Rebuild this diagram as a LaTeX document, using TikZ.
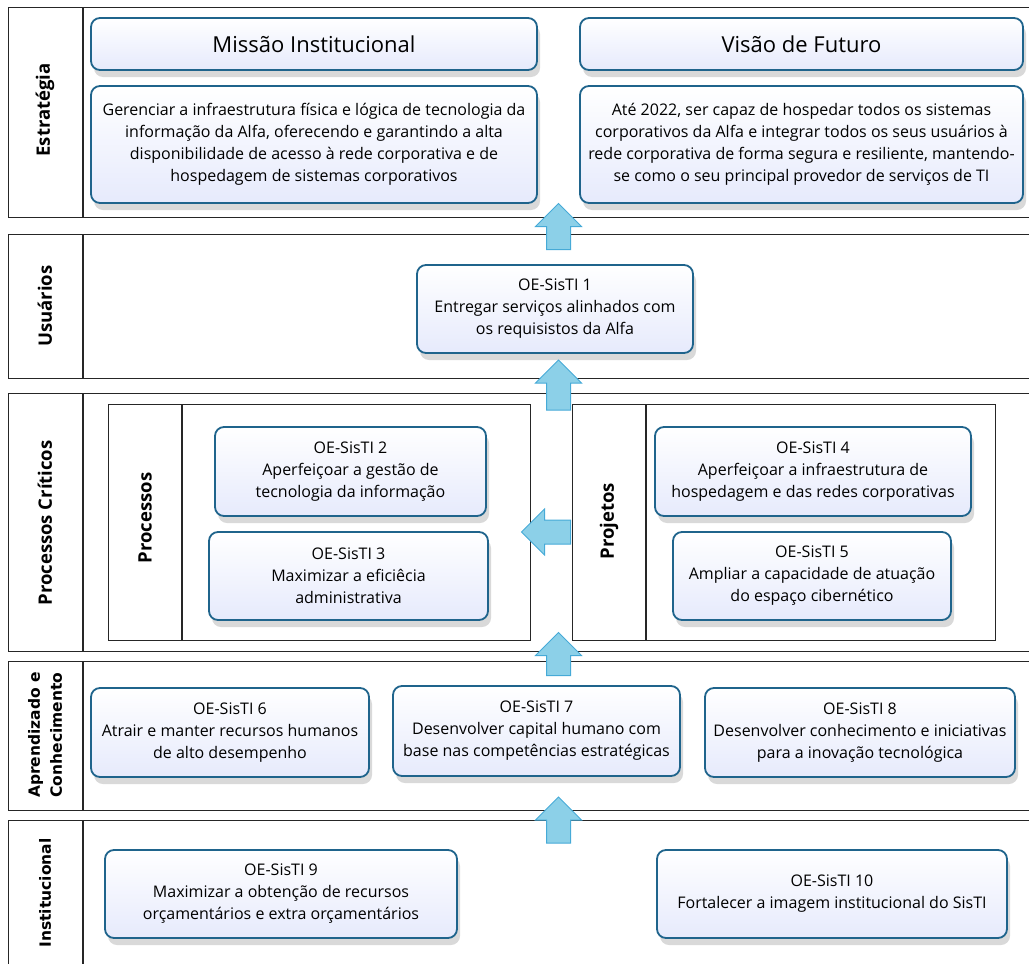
\documentclass[tikz,border=0pt]{standalone}
\usepackage{fontspec}
\setmainfont{Open Sans}
\newfontfamily\widebold{DejaVu Sans}
\usetikzlibrary{shapes.arrows,shadows,positioning}

\definecolor{boxline}{RGB}{31,100,140}
\definecolor{boxfill}{RGB}{230,234,252}
\definecolor{arrowfill}{RGB}{140,208,232}
\definecolor{arrowline}{RGB}{70,170,215}

\begin{document}
\begin{tikzpicture}[x=1pt, y=-1pt]
  % Define styles
  \tikzset{
    lane/.style={rectangle, draw=black!85, line width=1.3pt, inner sep=0pt, anchor=north west},
    lanelabel/.style={font=\bfseries\fontsize{18.5}{22}\selectfont, rotate=90, align=center},
    widelabel/.style={lanelabel, font=\widebold\bfseries\fontsize{15.5}{22}\selectfont},
    objbox/.style={rectangle, draw=boxline, line width=1.8pt, rounded corners=9pt, top color=white, bottom color=boxfill, align=center, inner sep=0pt, font=\fontsize{16}{22}\selectfont, drop shadow={opacity=0.3, shadow xshift=3pt, shadow yshift=-7pt}},
    titlebox/.style={objbox, font=\fontsize{22}{26}\selectfont},
    bigarrow/.style={single arrow, draw=arrowline, fill=arrowfill, line width=1pt, minimum height=46pt, minimum width=45pt, single arrow head extend=11pt, inner sep=11.5pt},
  }
  \useasboundingbox (0,0) rectangle (1029,964);

  % Lanes
  \node [lane, minimum width=1030pt, minimum height=210pt] (estr) at (8,7) {};
  \node [lane, minimum width=1030pt, minimum height=144pt] (usu) at (8,234) {};
  \node [lane, minimum width=1030pt, minimum height=258pt] (proc) at (8,393) {};
  \node [lane, minimum width=1030pt, minimum height=149pt] (apre) at (8,661) {};
  \node [lane, minimum width=1030pt, minimum height=160pt] (inst) at (8,820) {};
  \draw [black!85, line width=1.3pt] (83,7) -- (83,217);
  \draw [black!85, line width=1.3pt] (83,234) -- (83,378);
  \draw [black!85, line width=1.3pt] (83,393) -- (83,651);
  \draw [black!85, line width=1.3pt] (83,661) -- (83,810);
  \draw [black!85, line width=1.3pt] (83,820) -- (83,980);

  \node [lanelabel] (lestr) at (45,110) {Estratégia};
  \node [lanelabel] (lusu) at (45,306) {Usuários};
  \node [lanelabel] (lproc) at (45,523) {Processos Críticos};
  \node [widelabel] (lapre) at (45,735) {Aprendizado e\\Conhecimento};
  \node [widelabel] (linst) at (45,893) {Institucional};

  % Sub-lanes
  \node [lane, minimum width=422pt, minimum height=236pt] (subproc) at (108,404) {};
  \node [lane, minimum width=423pt, minimum height=236pt] (subproj) at (572,404) {};
  \draw [black!85, line width=1.3pt] (182,404) -- (182,640);
  \draw [black!85, line width=1.3pt] (646,404) -- (646,640);
  \node [lanelabel] (lsubproc) at (145,518) {Processos};
  \node [lanelabel] (lsubproj) at (609,521) {Projetos};

  % Strategy
  \node [titlebox, minimum width=446pt, minimum height=52pt] (missao) at (314,44) {Missão Institucional};
  \node [objbox, minimum width=446pt, minimum height=117pt] (missaotxt) at (314,144.5)
    {Gerenciar a infraestrutura física e lógica de tecnologia da\\informação da Alfa, oferecendo e garantindo a alta\\disponibilidade de acesso à rede corporativa e de\\hospedagem de sistemas corporativos};
  \node [titlebox, minimum width=443pt, minimum height=52pt] (visao) at (801.5,44) {Visão de Futuro};
  \node [objbox, minimum width=443pt, minimum height=117pt] (visaotxt) at (801.5,144.5)
    {Até 2022, ser capaz de hospedar todos os sistemas\\corporativos da Alfa e integrar todos os seus usuários à\\rede corporativa de forma segura e resiliente, mantendo-\\se como o seu principal provedor de serviços de TI};

  % Objectives
  \node [objbox, minimum width=276pt, minimum height=88pt] (oe1) at (555,309)
    {OE-SisTI 1\\Entregar serviços alinhados com\\os requisistos da Alfa};
  \node [objbox, minimum width=271pt, minimum height=89pt] (oe2) at (350.5,471.5)
    {OE-SisTI 2\\Aperfeiçoar a gestão de\\tecnologia da informação};
  \node [objbox, minimum width=279pt, minimum height=88pt] (oe3) at (348.5,576)
    {OE-SisTI 3\\Maximizar a eficiêcia\\administrativa};
  \node [objbox, minimum width=316pt, minimum height=89pt] (oe4) at (813,471.5)
    {OE-SisTI 4\\Aperfeiçoar a infraestrutura de\\hospedagem e das redes corporativas};
  \node [objbox, minimum width=278pt, minimum height=88pt] (oe5) at (812,576)
    {OE-SisTI 5\\Ampliar a capacidade de atuação\\do espaço cibernético};
  \node [objbox, minimum width=278pt, minimum height=89pt] (oe6) at (230,732.5)
    {OE-SisTI 6\\Atrair e manter recursos humanos\\de alto desempenho};
  \node [objbox, minimum width=287pt, minimum height=90pt] (oe7) at (536.5,731)
    {OE-SisTI 7\\Desenvolver capital humano com\\base nas competências estratégicas};
  \node [objbox, minimum width=310pt, minimum height=89pt] (oe8) at (860,732.5)
    {OE-SisTI 8\\Desenvolver conhecimento e iniciativas\\para a inovação tecnológica};
  \node [objbox, minimum width=352pt, minimum height=88pt] (oe9) at (281,894)
    {OE-SisTI 9\\Maximizar a obtenção de recursos\\orçamentários e extra orçamentários};
  \node [objbox, minimum width=350pt, minimum height=88pt] (oe10) at (832,894)
    {OE-SisTI 10\\Fortalecer a imagem institucional do SisTI};

  % Block arrows
  \node [bigarrow, shape border rotate=90] (a1) at (558.5,232.5) {};
  \node [bigarrow, shape border rotate=90, minimum height=50pt] (a2) at (558.5,391) {};
  \node [bigarrow, shape border rotate=180, minimum height=49pt] (a3) at (552,532) {};
  \node [bigarrow, shape border rotate=90, minimum height=43pt] (a4) at (558.5,660) {};
  \node [bigarrow, shape border rotate=90] (a5) at (558.5,826) {};
\end{tikzpicture}
\end{document}
